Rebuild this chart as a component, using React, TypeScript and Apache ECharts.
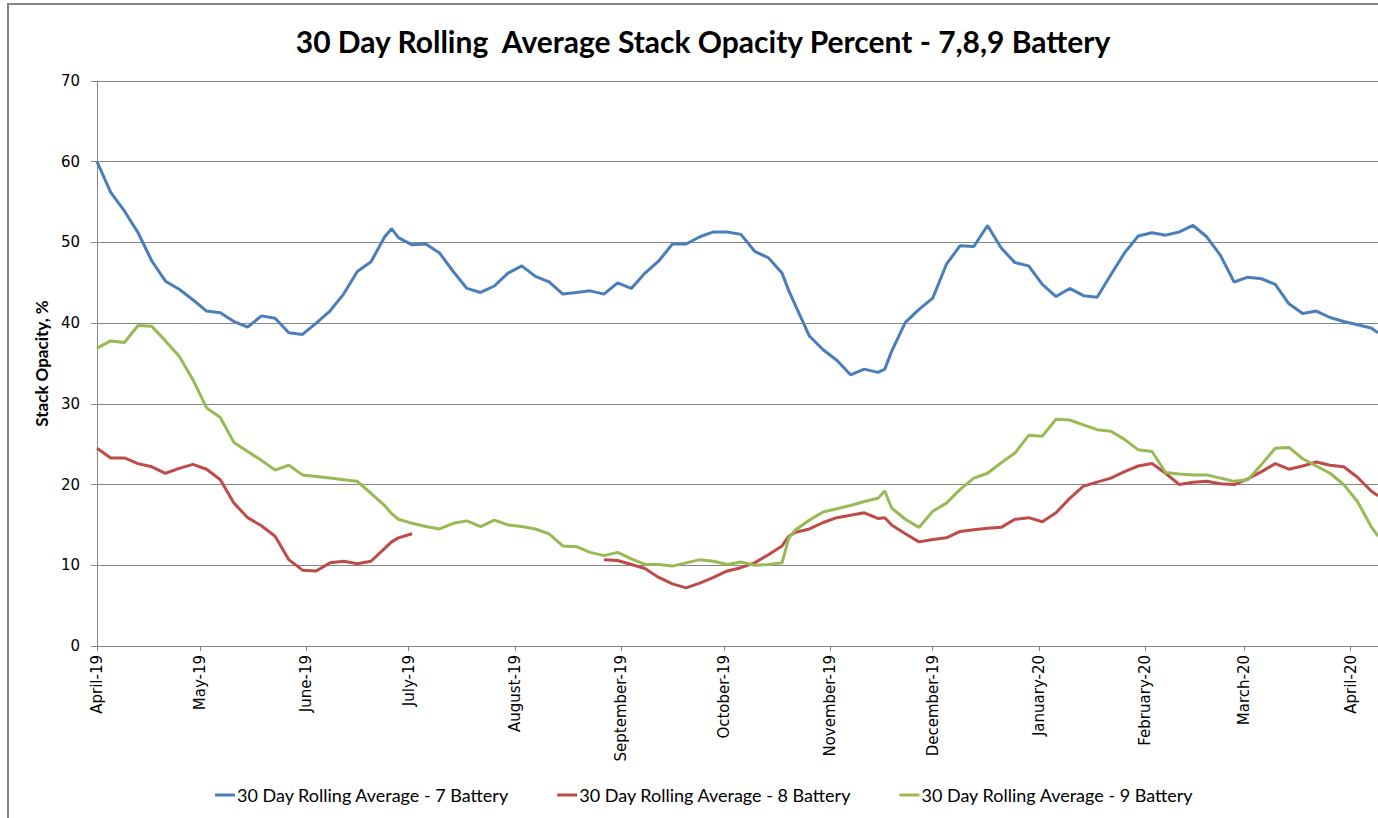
import React, { useEffect, useRef } from "react";
import * as echarts from "echarts";

const dates = [
  "2019-04-01", "2019-04-05", "2019-04-09", "2019-04-13", "2019-04-17", "2019-04-21", "2019-04-25", "2019-04-29",
  "2019-05-03", "2019-05-07", "2019-05-11", "2019-05-15", "2019-05-19", "2019-05-23", "2019-05-27", "2019-05-31",
  "2019-06-04", "2019-06-08", "2019-06-12", "2019-06-16", "2019-06-20", "2019-06-24", "2019-06-26", "2019-06-28",
  "2019-07-02", "2019-07-06", "2019-07-10", "2019-07-14", "2019-07-18", "2019-07-22", "2019-07-26", "2019-07-30",
  "2019-08-03", "2019-08-07", "2019-08-11", "2019-08-15", "2019-08-19", "2019-08-23", "2019-08-27", "2019-08-31",
  "2019-09-04", "2019-09-08", "2019-09-12", "2019-09-16", "2019-09-20", "2019-09-24", "2019-09-28",
  "2019-10-02", "2019-10-06", "2019-10-10", "2019-10-14", "2019-10-18", "2019-10-20", "2019-10-22", "2019-10-26", "2019-10-30",
  "2019-11-03", "2019-11-07", "2019-11-11", "2019-11-15", "2019-11-17", "2019-11-19", "2019-11-23", "2019-11-27",
  "2019-12-01", "2019-12-05", "2019-12-09", "2019-12-13", "2019-12-17", "2019-12-21", "2019-12-25", "2019-12-29",
  "2020-01-02", "2020-01-06", "2020-01-10", "2020-01-14", "2020-01-18", "2020-01-22", "2020-01-26", "2020-01-30",
  "2020-02-03", "2020-02-07", "2020-02-11", "2020-02-15", "2020-02-19", "2020-02-23", "2020-02-27",
  "2020-03-02", "2020-03-06", "2020-03-10", "2020-03-14", "2020-03-18", "2020-03-22", "2020-03-26", "2020-03-30",
  "2020-04-03", "2020-04-07", "2020-04-09",
];

const battery7 = [
  60.0, 56.2, 53.9, 51.2, 47.7, 45.2, 44.2, 42.9,
  41.5, 41.3, 40.2, 39.5, 40.9, 40.6, 38.8, 38.6,
  40.0, 41.5, 43.6, 46.4, 47.6, 50.7, 51.7, 50.6,
  49.7, 49.8, 48.7, 46.4, 44.3, 43.8, 44.6, 46.2,
  47.1, 45.8, 45.1, 43.6, 43.8, 44.0, 43.6, 45.0,
  44.3, 46.2, 47.7, 49.8, 49.8, 50.7, 51.3,
  51.3, 51.0, 48.9, 48.1, 46.2, 44.0, 42.1, 38.4, 36.7,
  35.4, 33.6, 34.3, 33.9, 34.3, 36.5, 40.1, 41.7,
  43.1, 47.3, 49.6, 49.5, 52.1, 49.3, 47.5, 47.1,
  44.8, 43.3, 44.3, 43.4, 43.2, 46.0, 48.7, 50.8,
  51.2, 50.9, 51.3, 52.1, 50.7, 48.4, 45.1,
  45.7, 45.5, 44.8, 42.4, 41.2, 41.5, 40.7, 40.2,
  39.8, 39.4, 38.8,
];

const battery8 = [
  24.5, 23.3, 23.3, 22.6, 22.2, 21.4, 22.0, 22.5,
  21.9, 20.6, 17.7, 15.9, 14.9, 13.6, 10.7, 9.4,
  9.3, 10.3, 10.5, 10.2, 10.5, 12.1, 12.9, 13.4,
  13.9, null, null, null, null, null, null, null,
  null, null, null, null, null, null, 10.7, 10.6,
  10.1, 9.6, 8.5, 7.7, 7.2, 7.8, 8.5,
  9.3, 9.7, 10.3, 11.3, 12.4, 13.6, 14.1, 14.5, 15.3,
  15.9, 16.2, 16.5, 15.8, 15.9, 15.0, 13.9, 12.9,
  13.2, 13.4, 14.2, 14.4, 14.6, 14.7, 15.7, 15.9,
  15.4, 16.5, 18.3, 19.8, 20.3, 20.8, 21.6, 22.3,
  22.6, 21.4, 20.0, 20.3, 20.4, 20.1, 20.0,
  20.7, 21.6, 22.6, 21.9, 22.3, 22.8, 22.4, 22.2,
  20.9, 19.2, 18.6,
];

const battery9 = [
  36.9, 37.8, 37.6, 39.7, 39.6, 37.8, 35.9, 33.0,
  29.5, 28.3, 25.2, 24.1, 23.0, 21.8, 22.4, 21.2,
  21.0, 20.8, 20.6, 20.4, 18.9, 17.4, 16.4, 15.7,
  15.2, 14.8, 14.5, 15.2, 15.5, 14.8, 15.6, 15.0,
  14.8, 14.5, 13.9, 12.4, 12.3, 11.6, 11.2, 11.6,
  10.8, 10.1, 10.1, 9.9, 10.3, 10.7, 10.5,
  10.1, 10.4, 10.0, 10.1, 10.3, 13.4, 14.4, 15.6, 16.6,
  17.0, 17.4, 17.9, 18.3, 19.2, 17.1, 15.7, 14.7,
  16.7, 17.7, 19.4, 20.8, 21.4, 22.7, 23.9, 26.1,
  26.0, 28.1, 28.0, 27.4, 26.8, 26.6, 25.6, 24.3,
  24.1, 21.5, 21.3, 21.2, 21.2, 20.8, 20.4,
  20.6, 22.5, 24.5, 24.6, 23.2, 22.3, 21.4, 20.0,
  17.9, 14.8, 13.6,
];

const seriesNames = [
  "30 Day Rolling Average - 7 Battery",
  "30 Day Rolling Average - 8 Battery",
  "30 Day Rolling Average - 9 Battery",
];

const monthNames = [
  "January", "February", "March", "April", "May", "June",
  "July", "August", "September", "October", "November", "December",
];

const TITLE = "30 Day Rolling  Average Stack Opacity Percent - 7,8,9 Battery";
const HUMAN = "Lato, 'Noto Sans', sans-serif";
const GRID = "#868686";

export default function App() {
  const ref = useRef<HTMLDivElement>(null);

  useEffect(() => {
    if (!ref.current) return;
    const chart = echarts.init(ref.current, undefined, { renderer: "svg" });
    const mk = (vals: (number | null)[]) => dates.map((d, i) => [d, vals[i]]);
    chart.setOption({
      animation: false,
      backgroundColor: "#ffffff",
      graphic: [
        {
          type: "rect",
          shape: { x: 8, y: 4, width: 1500, height: 900 },
          style: { fill: "none", stroke: GRID, lineWidth: 2 },
          silent: true,
        },
        {
          type: "text",
          x: 703,
          y: 41,
          style: {
            text: TITLE,
            fill: "#000",
            font: `bold 30px ${HUMAN}`,
            textAlign: "center",
            textVerticalAlign: "middle",
          },
        },
      ],
      legend: {
        left: 210,
        top: 781,
        icon: "rect",
        itemWidth: 20,
        itemHeight: 3,
        itemGap: 48,
        textStyle: { fontFamily: HUMAN, fontSize: 18, color: "#000", padding: [0, 0, 0, -3] },
        data: seriesNames,
      },
      grid: { left: 97, right: 0, top: 81, bottom: 172, containLabel: false },
      xAxis: {
        type: "time",
        min: "2019-04-01",
        max: "2020-04-09",
        minInterval: 28 * 86400000,
        maxInterval: 31 * 86400000,
        axisLine: { lineStyle: { color: GRID, width: 1 } },
        axisTick: { show: true, length: 5, lineStyle: { color: GRID } },
        splitLine: { show: false },
        axisLabel: {
          rotate: 90,
          margin: 9,
          color: "#000",
          fontFamily: "'DejaVu Sans', sans-serif",
          fontSize: 15,
          showMinLabel: true,
          showMaxLabel: false,
          hideOverlap: false,
          formatter: (v: number) => {
            const d = new Date(v);
            if (d.getDate() !== 1) return "";
            return monthNames[d.getMonth()] + "-" + String(d.getFullYear()).slice(2);
          },
        },
      },
      yAxis: {
        type: "value",
        min: 0,
        max: 70,
        interval: 10,
        name: "Stack Opacity, %",
        nameLocation: "middle",
        nameRotate: 90,
        nameGap: 46,
        nameTextStyle: { fontFamily: HUMAN, fontWeight: "bold", fontSize: 17, color: "#000" },
        axisLine: { show: true, lineStyle: { color: GRID, width: 1 } },
        axisTick: { show: true, length: 6, lineStyle: { color: GRID } },
        splitLine: { lineStyle: { color: GRID, width: 1 } },
        axisLabel: {
          margin: 17,
          color: "#000",
          fontFamily: "'DejaVu Sans', sans-serif",
          fontSize: 15,
        },
      },
      series: [
        { name: seriesNames[0], data: mk(battery7), color: "#4A7EBB" },
        { name: seriesNames[1], data: mk(battery8), color: "#BE4B48" },
        { name: seriesNames[2], data: mk(battery9), color: "#98B954" },
      ].map((s) => ({
        ...s,
        type: "line",
        showSymbol: false,
        symbol: "none",
        connectNulls: false,
        lineStyle: { width: 3, color: s.color },
        itemStyle: { color: s.color },
      })),
    });
    return () => chart.dispose();
  }, []);

  return (
    <div
      ref={ref}
      style={{ position: "absolute", left: 0, top: 0, width: 1378, height: 818 }}
    />
  );
}
